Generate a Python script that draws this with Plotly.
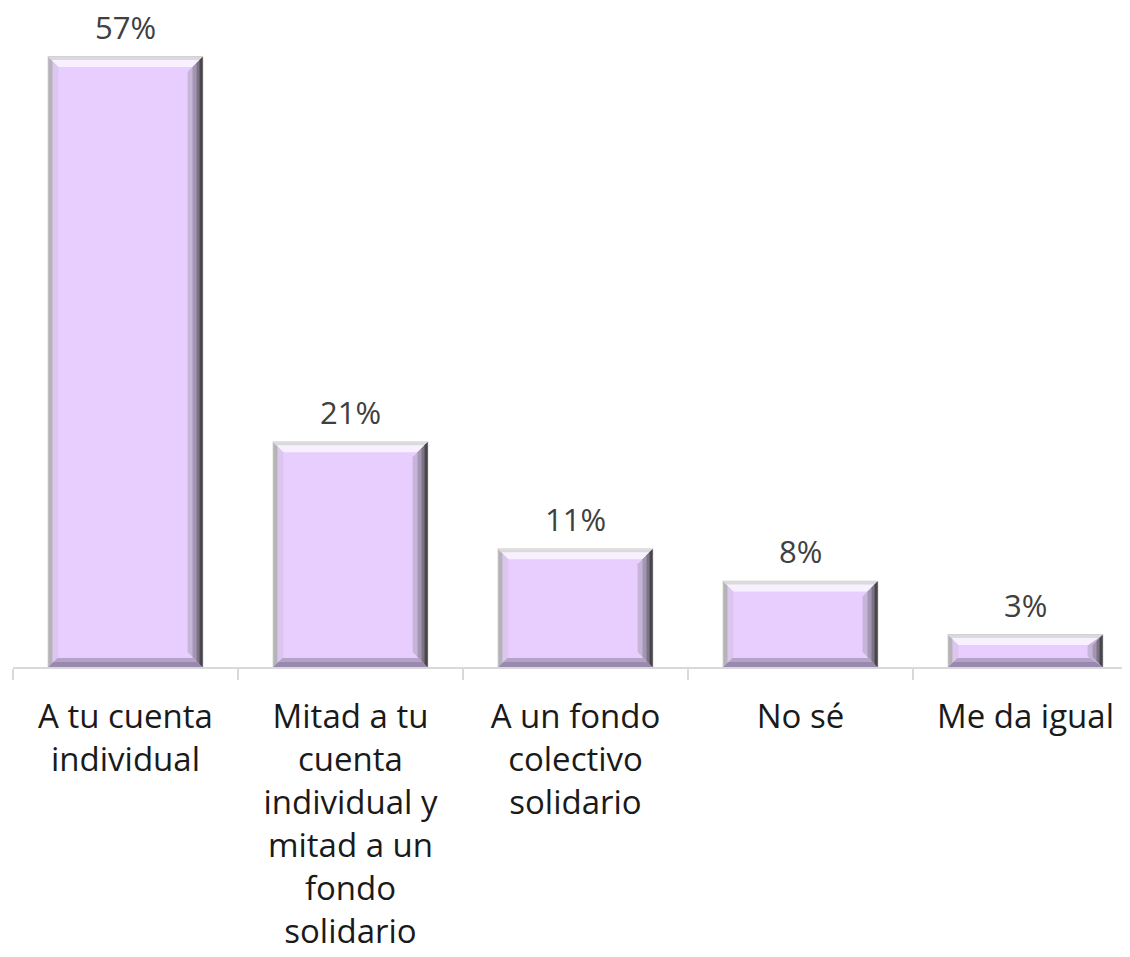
import plotly.graph_objects as go

categorias = [
    "A tu cuenta<br>individual",
    "Mitad a tu<br>cuenta<br>individual y<br>mitad a un<br>fondo<br>solidario",
    "A un fondo<br>colectivo<br>solidario",
    "No sé",
    "Me da igual",
]
porcentajes = [57, 21, 11, 8, 3]
etiquetas = ["57%", "21%", "11%", "8%", "3%"]

ANCHO_BARRA = 0.685
PX_X = 225    # pixeles por categoria
PX_Y = 10.7   # pixeles por punto porcentual

fig = go.Figure()
fig.add_trace(go.Bar(
    x=list(range(len(categorias))),
    y=porcentajes,
    width=ANCHO_BARRA,
    marker=dict(color="#E8CEFF", line=dict(color="#C4C4C4", width=1.5)),
    hoverinfo="skip",
))


def trapecio(puntos, color):
    path = "M " + " L ".join(f"{x},{y}" for x, y in puntos) + " Z"
    return dict(type="path", path=path, xref="x", yref="y",
                fillcolor=color, line=dict(width=0))


# bisel tipo 3D de cada barra
shapes = []
for i, v in enumerate(porcentajes):
    x0 = i - ANCHO_BARRA / 2
    x1 = i + ANCHO_BARRA / 2
    # lado izquierdo
    for px, color in [(10, "#DCC6F0"), (4, "#B4B4B4")]:
        bx, by = px / PX_X, min(px / PX_Y, v / 3)
        shapes.append(trapecio([(x0, 0), (x0, v), (x0 + bx, v - by), (x0 + bx, by)], color))
    # arriba
    for px, color in [(10, "#F8F0FF"), (3, "#DADADA")]:
        bx, by = px / PX_X, min(px / PX_Y, v / 3)
        shapes.append(trapecio([(x0, v), (x1, v), (x1 - bx, v - by), (x0 + bx, v - by)], color))
    # abajo
    for px, color in [(9, "#B3A3C6"), (5, "#9A89AE")]:
        bx, by = px / PX_X, min(px / PX_Y, v / 3)
        shapes.append(trapecio([(x0, 0), (x1, 0), (x1 - bx, by), (x0 + bx, by)], color))
    # lado derecho
    for px, color in [(15, "#C6B5D8"), (10, "#A496B3"), (6, "#7C7386"), (3, "#474747")]:
        bx, by = px / PX_X, min(px / PX_Y, v / 3)
        shapes.append(trapecio([(x1, v), (x1, 0), (x1 - bx, by), (x1 - bx, v - by)], color))

annotations = []
for i, (v, t) in enumerate(zip(porcentajes, etiquetas)):
    annotations.append(dict(x=i, y=v, text=t, showarrow=False, xref="x", yref="y",
                            yanchor="bottom", yshift=12, borderpad=0, height=34,
                            font=dict(size=31, color="#404040", family="Open Sans")))

fig.update_layout(
    width=1130,
    height=957,
    margin=dict(l=5, r=0, t=17, b=298),
    plot_bgcolor="white",
    paper_bgcolor="white",
    showlegend=False,
    shapes=shapes,
    annotations=annotations,
    font=dict(family="Open Sans", size=33, color="#1A1A1A"),
    xaxis=dict(
        type="category",
        tickmode="array",
        tickvals=list(range(len(categorias))),
        ticktext=categorias,
        range=[-0.5, 4.5],
        tickson="boundaries",
        ticks="outside",
        ticklen=11,
        tickcolor="#D9D9D9",
        tickwidth=1.5,
        showline=True,
        linecolor="#D9D9D9",
        linewidth=1.5,
        showgrid=False,
        automargin=False,
        tickangle=0,
        ticklabelstandoff=20,
    ),
    yaxis=dict(
        range=[0, 60],
        visible=False,
        showgrid=False,
        zeroline=False,
        automargin=False,
    ),
)

fig.write_html("out.html")
